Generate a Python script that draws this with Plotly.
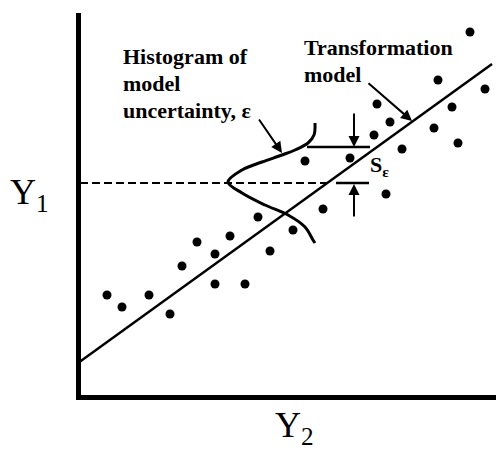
import plotly.graph_objects as go

# ---- data (plot units: x 0..426, y 0..384) ----
obs_x = [29, 44, 71, 92, 104, 119, 137, 152, 137, 167, 180, 192, 215, 227, 245,
         272, 296, 299, 308, 312, 324, 356, 360, 374, 380, 392, 407]
obs_y = [102, 90, 102, 83, 131, 155, 143, 161, 113, 113, 180, 146, 167, 236, 188,
         239, 262, 293, 203, 275, 248, 269, 317, 290, 254, 365, 308]

model_x = [0, 414]
model_y = [34, 333]

ref_level_x = [2, 251]
ref_level_y = [214, 214]

hist_x = [237, 236, 230, 217, 204, 184, 164, 150, 164, 187, 210, 227, 235, 237]
hist_y = [274, 262, 254, 247, 242, 235, 227, 215, 204, 192, 182, 170, 157, 154]

bracket_top_x = [229, 292]
bracket_top_y = [250, 250]
bracket_bot_x = [258, 291]
bracket_bot_y = [214, 214]

X_MAX, Y_MAX = 426, 384

fig = go.Figure()

fig.add_trace(go.Scatter(x=ref_level_x, y=ref_level_y, mode="lines",
                         line=dict(color="black", width=2.2, dash="8px,4px")))
fig.add_trace(go.Scatter(x=model_x, y=model_y, mode="lines",
                         line=dict(color="black", width=2.5)))
fig.add_trace(go.Scatter(x=hist_x, y=hist_y, mode="lines", line_shape="spline",
                         line=dict(color="black", width=3)))
fig.add_trace(go.Scatter(x=bracket_top_x, y=bracket_top_y, mode="lines",
                         line=dict(color="black", width=2.5)))
fig.add_trace(go.Scatter(x=bracket_bot_x, y=bracket_bot_y, mode="lines",
                         line=dict(color="black", width=2.5)))
fig.add_trace(go.Scatter(x=obs_x, y=obs_y, mode="markers",
                         marker=dict(color="black", size=9)))

# axis lines
fig.add_shape(type="line", xref="paper", yref="paper",
              x0=0.5 / X_MAX, x1=0.5 / X_MAX, y0=-3 / Y_MAX, y1=1.0,
              line=dict(color="black", width=5))
fig.add_shape(type="line", xref="paper", yref="paper",
              x0=-2 / X_MAX, x1=1.0, y0=-0.5 / Y_MAX, y1=-0.5 / Y_MAX,
              line=dict(color="black", width=5))

bold = dict(family="Liberation Serif", size=22, color="black")

def label(text, x, y, font=bold, xanchor="left"):
    fig.add_annotation(x=x, y=y, xref="x", yref="y", text=text, showarrow=False,
                       xanchor=xanchor, yanchor="middle", font=font)

label("<b>Histogram of</b>", 43, 341)
label("<b>model</b>", 43, 314)
label("<b>uncertainty, ε</b>", 43, 287)
label("<b>Transformation</b>", 224, 350)
label("<b>model</b>", 224, 323)
label("<b>S<sub>ε</sub></b>", 290, 231, font=dict(family="Liberation Serif", size=22, color="black"))

serif_big = dict(family="Liberation Serif", size=36, color="black")
fig.add_annotation(x=-0.115, y=0.527, xref="paper", yref="paper", text="Y<sub>1</sub>",
                   showarrow=False, xanchor="center", yanchor="middle", font=serif_big)
fig.add_annotation(x=0.509, y=-0.080, xref="paper", yref="paper", text="Y<sub>2</sub>",
                   showarrow=False, xanchor="center", yanchor="middle", font=serif_big)

def arrow(x0, y0, x1, y1):
    fig.add_annotation(x=x1, y=y1, ax=x0, ay=y0, xref="x", yref="y",
                       axref="x", ayref="y", text="", showarrow=True,
                       arrowhead=2, arrowsize=1.1, arrowwidth=2, arrowcolor="black")

arrow(180, 279, 204, 244)
arrow(289, 315, 334, 276)
arrow(276, 285, 276, 250)
arrow(276, 179, 276, 213)

fig.update_layout(
    width=496, height=442,
    margin=dict(l=70, r=0, t=5, b=53),
    paper_bgcolor="white", plot_bgcolor="white",
    showlegend=False, hovermode=False,
    xaxis=dict(range=[0, X_MAX], visible=False, fixedrange=True),
    yaxis=dict(range=[0, Y_MAX], visible=False, fixedrange=True),
)

fig.write_html("out.html")
